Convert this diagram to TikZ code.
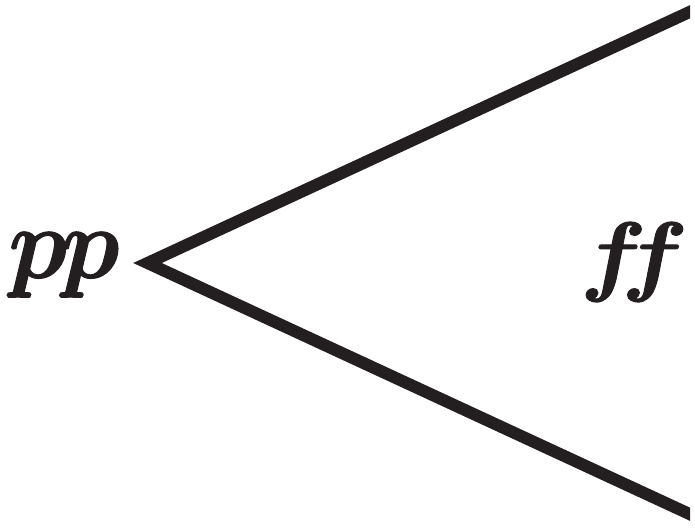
\documentclass[tikz,border=0pt]{standalone}
\definecolor{ink}{HTML}{231F20}
\newcommand{\heavytext}[1]{\special{pdf:literal direct 2 Tr 0.1 w 1 j}#1\special{pdf:literal direct 0 Tr}}
\tikzset{
  hairpin/.style={line width=6pt, draw=ink, line join=miter, line cap=butt},
  dyn/.style={inner sep=0pt, outer sep=0pt, text=ink}
}
\begin{document}
\begin{tikzpicture}[x=0.5pt,y=-0.5pt]
\useasboundingbox (0,0) rectangle (695,531);
\coordinate (apex) at (147.5,263);
\coordinate (top) at (710,2.5);
\coordinate (bot) at (710,523.5);
\begin{scope}
\clip (0,0) rectangle (690,531);
\draw[hairpin] (top) -- (apex) -- (bot);
\end{scope}
\node[dyn] (pp) at (64,265) {\resizebox*{55.5pt}{32.5pt}{\heavytext{\boldmath$p\mkern-1mu p$}}};
\node[dyn] (ff) at (634,262) {\resizebox*{54pt}{39.5pt}{\heavytext{\boldmath$f\mkern-4mu f$}}};
\end{tikzpicture}
\end{document}
